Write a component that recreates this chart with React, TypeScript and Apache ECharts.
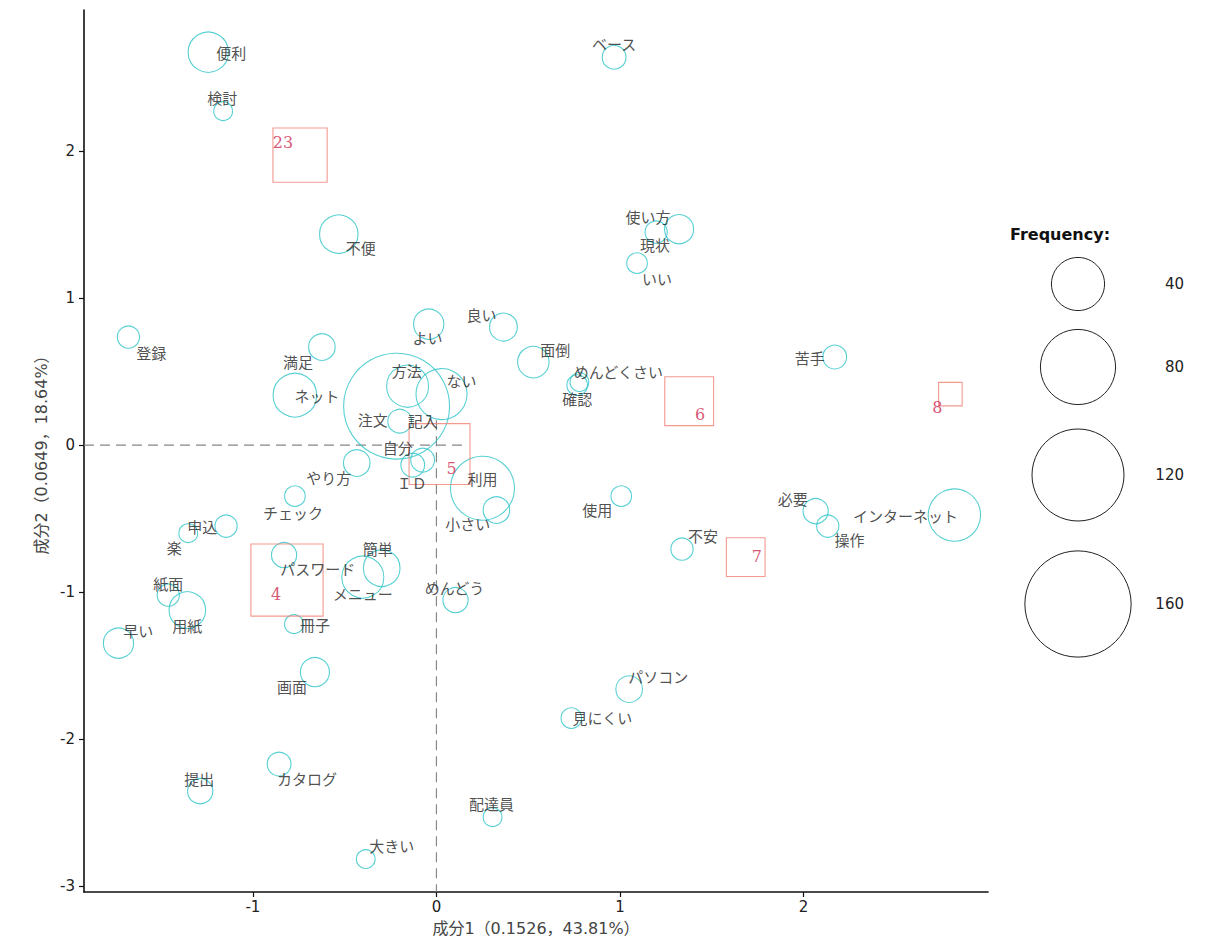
import React, { useEffect, useRef } from "react";
import * as echarts from "echarts";

// ---- axes ----
const X_MIN = -1.92;
const X_MAX = 3.005;
const Y_MIN = -3.04;
const Y_MAX = 2.96;
const X_TICKS = [-1, 0, 1, 2];
const Y_TICKS = [-3, -2, -1, 0, 1, 2];
const X_TITLE = "成分1（0.1526，43.81%）";
const Y_TITLE = "成分2（0.0649，18.64%）";

// origin reference lines (dashed)
const ORIGIN_H_END = 0.16;
const ORIGIN_V_TOP = 0.17;

// ---- words (circles) ----
const WORDS = [
  "便利", "検討", "不便", "ベース", "使い方", "現状", "いい", "登録", "満足", "よい",
  "良い", "面倒", "ネット", "注文", "方法", "ない", "記入", "自分", "ＩＤ", "やり方",
  "利用", "小さい", "チェック", "申込", "楽", "パスワード", "簡単", "メニュー", "めんどう", "紙面",
  "用紙", "早い", "冊子", "画面", "カタログ", "提出", "大きい", "配達員", "めんどくさい", "確認",
  "苦手", "使用", "不安", "必要", "操作", "インターネット", "パソコン", "見にくい",
];
const WORD_X = [
  -1.243, -1.162, -0.532, 0.968, 1.322, 1.197, 1.093, -1.678, -0.624, -0.042,
  0.365, 0.528, -0.771, -0.217, -0.157, 0.028, -0.2, -0.075, -0.129, -0.434,
  0.251, 0.327, -0.771, -1.146, -1.352, -0.83, -0.298, -0.401, 0.104, -1.461,
  -1.357, -1.732, -0.776, -0.662, -0.857, -1.287, -0.385, 0.306, 0.779, 0.767,
  2.17, 1.007, 1.338, 2.066, 2.132, 2.822, 1.05, 0.735,
];
const WORD_Y = [
  2.673, 2.272, 1.435, 2.639, 1.469, 1.449, 1.238, 0.735, 0.667, 0.823,
  0.803, 0.565, 0.34, 0.265, 0.401, 0.347, 0.163, -0.102, -0.136, -0.122,
  -0.293, -0.442, -0.347, -0.551, -0.599, -0.748, -0.837, -0.898, -1.054, -1.02,
  -1.122, -1.347, -1.218, -1.544, -2.17, -2.354, -2.816, -2.531, 0.429, 0.408,
  0.599, -0.347, -0.707, -0.449, -0.551, -0.476, -1.66, -1.857,
];
const WORD_FREQ = [
  23, 5, 21, 8, 12, 7, 6, 7, 10, 13,
  11, 14, 27, 159, 25, 37, 8, 8, 8, 10,
  58, 10, 6, 7, 5, 9, 19, 25, 9, 7,
  19, 13, 5, 12, 8, 9, 5, 5, 5, 6,
  8, 6, 7, 9, 7, 39, 10, 6,
];
const WORD_LABEL_X = [
  -1.118, -1.167, -0.412, 0.968, 1.153, 1.191, 1.202, -1.553, -0.754, -0.048,
  0.246, 0.648, -0.651, -0.347, -0.162, 0.137, -0.075, -0.211, -0.135, -0.586,
  0.251, 0.17, -0.782, -1.276, -1.428, -0.646, -0.32, -0.401, 0.099, -1.461,
  -1.357, -1.624, -0.662, -0.787, -0.705, -1.292, -0.243, 0.3, 0.991, 0.767,
  2.034, 0.876, 1.452, 1.941, 2.251, 2.556, 1.208, 0.904,
];
const WORD_LABEL_Y = [
  2.673, 2.367, 1.347, 2.735, 1.558, 1.367, 1.136, 0.633, 0.571, 0.735,
  0.891, 0.653, 0.34, 0.177, 0.51, 0.442, 0.17, -0.014, -0.252, -0.218,
  -0.224, -0.531, -0.456, -0.551, -0.694, -0.837, -0.701, -1.007, -0.966, -0.939,
  -1.224, -1.259, -1.218, -1.639, -2.265, -2.265, -2.721, -2.435, 0.503, 0.32,
  0.599, -0.435, -0.612, -0.361, -0.639, -0.476, -1.571, -1.85,
];

// ---- documents / variable values (squares) ----
const DOCS = ["23", "6", "8", "5", "4", "7"];
const DOC_X = [-0.743, 1.377, 2.8, 0.017, -0.814, 1.685];
const DOC_Y = [1.973, 0.299, 0.347, -0.061, -0.918, -0.762];
const DOC_N = [53, 43, 10, 67, 94, 27];
const DOC_LABEL_X = [-0.836, 1.436, 2.729, 0.083, -0.874, 1.745];
const DOC_LABEL_Y = [2.061, 0.211, 0.259, -0.156, -1.014, -0.755];

// ---- size legend ----
const LEGEND_TITLE = "Frequency:";
const LEGEND_VALUES = [40, 80, 120, 160];

const K = 4.2;
const circleRadius = (v: number) => K * Math.sqrt(v);
const squareSide = (n: number) => Math.sqrt(Math.PI) * K * Math.sqrt(n);

const CYAN = "#2ec4c8";
const SALMON = "#f07f74";
const CRIMSON = "#cc2950";
const JP = '"Noto Sans CJK JP", "Noto Sans", sans-serif';
const NUM = '"DejaVu Sans", Verdana, sans-serif';
const TITLE_FONT = '"DejaVu Sans", "Noto Sans CJK JP", sans-serif';

export default function App() {
  const ref = useRef<HTMLDivElement>(null);

  useEffect(() => {
    if (!ref.current) return;
    const chart = echarts.init(ref.current, undefined, { renderer: "svg" });

    const wordData = WORDS.map((w, i) => ({ name: w, value: [WORD_X[i], WORD_Y[i], WORD_FREQ[i]] }));
    const wordLabelData = WORDS.map((w, i) => ({ name: w, value: [WORD_LABEL_X[i], WORD_LABEL_Y[i]] }));
    const docData = DOCS.map((d, i) => ({ name: d, value: [DOC_X[i], DOC_Y[i], DOC_N[i]] }));
    const docLabelData = DOCS.map((d, i) => ({ name: d, value: [DOC_LABEL_X[i], DOC_LABEL_Y[i]] }));

    // legend graphics
    const legendX = 1078;
    const legendYs = [284, 367, 475, 604];
    const legendEls: any[] = [
      {
        type: "text",
        left: 1010,
        top: 226,
        style: { text: LEGEND_TITLE, font: `bold 16px ${NUM}`, fill: "#111" },
      },
    ];
    LEGEND_VALUES.forEach((v, i) => {
      legendEls.push({
        type: "circle",
        shape: { cx: legendX, cy: legendYs[i], r: circleRadius(v) },
        style: { fill: "none", stroke: "#222", lineWidth: 1 },
      });
      legendEls.push({
        type: "text",
        x: 1184,
        y: legendYs[i],
        style: {
          text: String(v),
          font: `15px ${NUM}`,
          fill: "#222",
          align: "right",
          verticalAlign: "middle",
        },
      });
    });

    const option: any = {
      animation: false,
      backgroundColor: "#ffffff",
      grid: { left: 84, right: 232, top: 10, bottom: 59, containLabel: false },
      xAxis: {
        type: "value",
        min: X_MIN,
        max: X_MAX,
        name: X_TITLE,
        nameLocation: "middle",
        nameGap: 28,
        nameTextStyle: { fontFamily: TITLE_FONT, fontSize: 16, color: "#444" },
        splitLine: { show: false },
        axisLine: { show: true, onZero: false, lineStyle: { color: "#111", width: 1.6 } },
        axisTick: { show: true, length: 5, lineStyle: { color: "#111", width: 1.2 }, customValues: X_TICKS },
        axisLabel: {
          customValues: X_TICKS,
          color: "#222",
          fontFamily: NUM,
          fontSize: 15,
          margin: 7,
        },
      },
      yAxis: {
        type: "value",
        min: Y_MIN,
        max: Y_MAX,
        name: Y_TITLE,
        nameLocation: "middle",
        nameRotate: 90,
        nameGap: 30,
        nameTextStyle: { fontFamily: TITLE_FONT, fontSize: 16, color: "#444" },
        splitLine: { show: false },
        axisLine: { show: true, onZero: false, lineStyle: { color: "#111", width: 1.6 } },
        axisTick: { show: true, length: 5, lineStyle: { color: "#111", width: 1.2 }, customValues: Y_TICKS },
        axisLabel: {
          customValues: Y_TICKS,
          color: "#222",
          fontFamily: NUM,
          fontSize: 15,
          margin: 9,
        },
      },
      graphic: legendEls,
      series: [
        {
          type: "line",
          silent: true,
          symbol: "none",
          data: [
            [X_MIN, 0],
            [ORIGIN_H_END, 0],
          ],
          lineStyle: { color: "#888", width: 1.2, type: [10, 6] },
          z: 1,
        },
        {
          type: "line",
          silent: true,
          symbol: "none",
          data: [
            [0, ORIGIN_V_TOP],
            [0, Y_MIN],
          ],
          lineStyle: { color: "#888", width: 1.2, type: [10, 6] },
          z: 1,
        },
        {
          name: "words",
          type: "scatter",
          data: wordData,
          symbol: "circle",
          symbolSize: (v: number[]) => 2 * circleRadius(v[2]),
          itemStyle: { color: "transparent", borderColor: CYAN, borderWidth: 1.1 },
          z: 2,
        },
        {
          name: "docs",
          type: "scatter",
          data: docData,
          symbol: "rect",
          symbolSize: (v: number[]) => squareSide(v[2]),
          itemStyle: { color: "transparent", borderColor: SALMON, borderWidth: 1.1 },
          z: 2,
        },
        {
          name: "wordLabels",
          type: "scatter",
          data: wordLabelData,
          symbolSize: 1,
          itemStyle: { color: "transparent" },
          label: {
            show: true,
            position: "inside",
            formatter: (p: any) => p.name,
            color: "#222",
            fontFamily: JP,
            fontSize: 15,
          },
          z: 3,
        },
        {
          name: "docLabels",
          type: "scatter",
          data: docLabelData,
          symbolSize: 1,
          itemStyle: { color: "transparent" },
          label: {
            show: true,
            position: "inside",
            formatter: (p: any) => p.name,
            color: CRIMSON,
            fontFamily: '"DejaVu Serif", "Liberation Serif", serif',
            fontSize: 16,
          },
          z: 3,
        },
      ],
    };

    chart.setOption(option);
    return () => chart.dispose();
  }, []);

  return (
    <div
      ref={ref}
      style={{ position: "absolute", left: 0, top: 0, width: 1220, height: 951, background: "#fff" }}
    />
  );
}
